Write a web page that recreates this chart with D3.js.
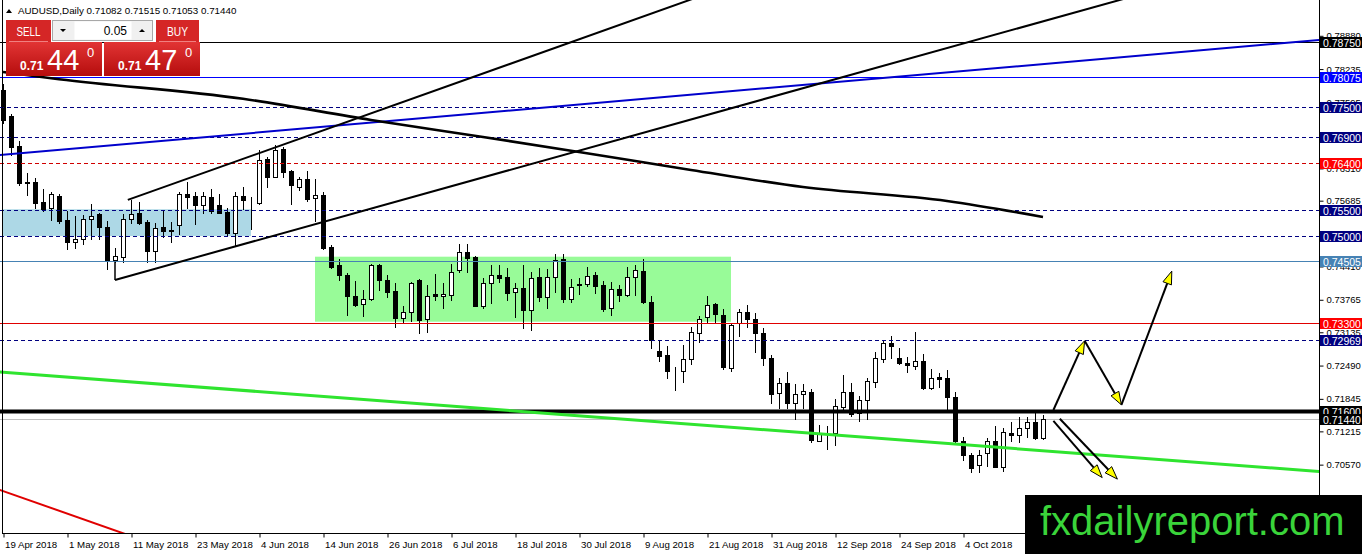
<!DOCTYPE html>
<html lang="en">

<head>
    <meta charset="UTF-8" />
    <title>AUDUSD,Daily</title>
    <style>
        html, body { margin: 0; padding: 0; background: #fff; }
        #container { width: 1362px; height: 554px; overflow: hidden; }
    </style>
</head>

<body>
    <div id="container"></div>
</body>
<script src="https://cdnjs.cloudflare.com/ajax/libs/d3/7.8.5/d3.min.js"></script>
<script>
    const symbol = "AUDUSD", period = "Daily";

    // daily candles, bar 0 = 19 Apr 2018
    const opens = [0.7782, 0.7732, 0.7674, 0.7604, 0.7604, 0.7565, 0.7553, 0.7577, 0.7530, 0.7488,
        0.7493, 0.7532, 0.7542, 0.7517, 0.7453, 0.7459, 0.7532, 0.7543, 0.7527, 0.7471,
        0.7517, 0.7510, 0.7520, 0.7581, 0.7577, 0.7559, 0.7574, 0.7559, 0.7546, 0.7504,
        0.7577, 0.7567, 0.7564, 0.7648, 0.7614, 0.7667, 0.7626, 0.7594, 0.7609, 0.7572,
        0.7578, 0.7478, 0.7443, 0.7424, 0.7382, 0.7367, 0.7377, 0.7442, 0.7413, 0.7393,
        0.7340, 0.7351, 0.7414, 0.7338, 0.7386, 0.7382, 0.7385, 0.7433, 0.7469, 0.7459,
        0.7364, 0.7408, 0.7424, 0.7419, 0.7390, 0.7399, 0.7356, 0.7419, 0.7380, 0.7420,
        0.7455, 0.7377, 0.7405, 0.7406, 0.7424, 0.7404, 0.7359, 0.7396, 0.7385, 0.7420,
        0.7431, 0.7371, 0.7276, 0.7269, 0.7239, 0.7238, 0.7260, 0.7312, 0.7342, 0.7367,
        0.7346, 0.7244, 0.7330, 0.7351, 0.7338, 0.7312, 0.7262, 0.7194, 0.7214, 0.7176,
        0.7192, 0.7196, 0.7102, 0.7117, 0.7117, 0.7167, 0.7197, 0.7156, 0.7181, 0.7217,
        0.7260, 0.7291, 0.7262, 0.7253, 0.7247, 0.7256, 0.7205, 0.7225, 0.7223, 0.7187,
        0.7101, 0.7075, 0.7055, 0.7078, 0.7101, 0.7052, 0.7118, 0.7114, 0.7128, 0.7139,
        0.71082];
    const highs = [0.7794, 0.7736, 0.7683, 0.7621, 0.7612, 0.7590, 0.7585, 0.7580, 0.7548, 0.7537,
        0.7540, 0.7561, 0.7544, 0.7528, 0.7476, 0.7542, 0.7568, 0.7565, 0.7530, 0.7524,
        0.7548, 0.7527, 0.7585, 0.7604, 0.7585, 0.7585, 0.7590, 0.7581, 0.7553, 0.7585,
        0.7594, 0.7575, 0.7666, 0.7652, 0.7676, 0.7672, 0.7627, 0.7614, 0.7626, 0.7609,
        0.7585, 0.7482, 0.7455, 0.7427, 0.7411, 0.7395, 0.7444, 0.7444, 0.7424, 0.7408,
        0.7364, 0.7409, 0.7415, 0.7404, 0.7425, 0.7408, 0.7444, 0.7483, 0.7483, 0.7461,
        0.7418, 0.7442, 0.7443, 0.7438, 0.7408, 0.7442, 0.7430, 0.7438, 0.7435, 0.7464,
        0.7464, 0.7415, 0.7417, 0.7440, 0.7429, 0.7411, 0.7409, 0.7404, 0.7440, 0.7443,
        0.7455, 0.7382, 0.7298, 0.7285, 0.7246, 0.7288, 0.7323, 0.7345, 0.7383, 0.7369,
        0.7357, 0.7331, 0.7357, 0.7365, 0.7349, 0.7320, 0.7269, 0.7223, 0.7236, 0.7212,
        0.7212, 0.7202, 0.7133, 0.7130, 0.7183, 0.7230, 0.7214, 0.7189, 0.7223, 0.7275,
        0.7296, 0.7305, 0.7282, 0.7264, 0.7314, 0.7270, 0.7241, 0.7233, 0.7240, 0.7197,
        0.7110, 0.7079, 0.7085, 0.7107, 0.7130, 0.7127, 0.7139, 0.7148, 0.7148, 0.7157,
        0.71515];
    const lows = [0.7718, 0.7656, 0.7598, 0.7579, 0.7553, 0.7548, 0.7531, 0.7525, 0.7474, 0.7476,
        0.7484, 0.7493, 0.7493, 0.7435, 0.7449, 0.7449, 0.7524, 0.7522, 0.7449, 0.7449,
        0.7498, 0.7488, 0.7503, 0.7553, 0.7522, 0.7543, 0.7544, 0.7543, 0.7499, 0.7480,
        0.7551, 0.7512, 0.7562, 0.7595, 0.7613, 0.7614, 0.7561, 0.7588, 0.7566, 0.7529,
        0.7473, 0.7438, 0.7414, 0.7346, 0.7364, 0.7345, 0.7375, 0.7395, 0.7380, 0.7323,
        0.7332, 0.7334, 0.7311, 0.7314, 0.7375, 0.7360, 0.7375, 0.7429, 0.7430, 0.7363,
        0.7360, 0.7369, 0.7409, 0.7375, 0.7343, 0.7321, 0.7317, 0.7373, 0.7359, 0.7391,
        0.7372, 0.7371, 0.7386, 0.7402, 0.7388, 0.7354, 0.7346, 0.7373, 0.7382, 0.7385,
        0.7370, 0.7282, 0.7256, 0.7223, 0.7201, 0.7216, 0.7252, 0.7294, 0.7333, 0.7333,
        0.7241, 0.7238, 0.7305, 0.7322, 0.7275, 0.7249, 0.7175, 0.7165, 0.7165, 0.7144,
        0.7165, 0.7099, 0.7101, 0.7086, 0.7094, 0.7161, 0.7150, 0.7141, 0.7144, 0.7207,
        0.7254, 0.7262, 0.7251, 0.7236, 0.7241, 0.7203, 0.7202, 0.7207, 0.7162, 0.7099,
        0.7065, 0.7041, 0.7042, 0.7054, 0.7051, 0.7044, 0.7101, 0.7099, 0.7110, 0.7105,
        0.71053];
    const closes = [0.7724, 0.7672, 0.7601, 0.7602, 0.7564, 0.7552, 0.7580, 0.7528, 0.7488, 0.7493,
        0.7532, 0.7538, 0.7516, 0.7453, 0.7460, 0.7532, 0.7541, 0.7525, 0.7471, 0.7515,
        0.7509, 0.7509, 0.7581, 0.7575, 0.7559, 0.7577, 0.7548, 0.7544, 0.7504, 0.7577,
        0.7568, 0.7566, 0.7646, 0.7614, 0.7666, 0.7624, 0.7598, 0.7609, 0.7571, 0.7578,
        0.7476, 0.7440, 0.7424, 0.7382, 0.7365, 0.7377, 0.7443, 0.7413, 0.7391, 0.7340,
        0.7352, 0.7408, 0.7336, 0.7383, 0.7382, 0.7386, 0.7429, 0.7468, 0.7457, 0.7364,
        0.7408, 0.7424, 0.7418, 0.7388, 0.7399, 0.7356, 0.7417, 0.7380, 0.7419, 0.7453,
        0.7377, 0.7401, 0.7406, 0.7422, 0.7403, 0.7358, 0.7396, 0.7385, 0.7420, 0.7433,
        0.7371, 0.7298, 0.7267, 0.7238, 0.7240, 0.7260, 0.7314, 0.7338, 0.7365, 0.7348,
        0.7246, 0.7327, 0.7351, 0.7338, 0.7311, 0.7262, 0.7193, 0.7214, 0.7176, 0.7192,
        0.7199, 0.7104, 0.7117, 0.7118, 0.7170, 0.7197, 0.7154, 0.7181, 0.7219, 0.7262,
        0.7291, 0.7286, 0.7253, 0.7250, 0.7256, 0.7204, 0.7223, 0.7222, 0.7187, 0.7101,
        0.7075, 0.7050, 0.7075, 0.7101, 0.7052, 0.7120, 0.7114, 0.7128, 0.7139, 0.7107,
        0.71440];
    const askPrice = 0.71470;

    const dateLabels = ["19 Apr 2018", "1 May 2018", "11 May 2018", "23 May 2018", "4 Jun 2018", "14 Jun 2018",
        "26 Jun 2018", "6 Jul 2018", "18 Jul 2018", "30 Jul 2018", "9 Aug 2018", "21 Aug 2018",
        "31 Aug 2018", "12 Sep 2018", "24 Sep 2018", "4 Oct 2018"];
    const barsPerDateTick = 8;
    const priceTicks = [0.78880, 0.78235, 0.77595, 0.76950, 0.76310, 0.75685, 0.75040, 0.74410,
        0.73765, 0.73135, 0.72490, 0.71845, 0.71215, 0.70570, 0.69940];

    // horizontal lines drawn on the chart
    const levels = [0.78750, 0.78075, 0.77500, 0.76900, 0.76400, 0.75500, 0.75000, 0.74505,
        0.73300, 0.72969, 0.71600];
    const levelKinds = ["black", "blue", "dash", "dash", "reddash", "dash", "dash", "steel",
        "red", "dash", "thick"];

    // long moving average
    const maBars = [0, 7, 30, 46, 60, 72, 86, 100, 118, 130];
    const maValues = [0.7817, 0.7803, 0.7765, 0.7724, 0.7691, 0.7662, 0.7627, 0.7594, 0.7567, 0.7536];

    // trend lines: [bar, price] anchors
    const blueTrend = [[0, 0.76566], [130, 0.78323]];
    const greenTrend = [[0, 0.7235], [130, 0.7083]];
    const redTrend = [[0, 0.7005], [14, 0.69286]];
    const channelUpper = [[15.6, 0.7569], [60, 0.7814]];
    const channelLower = [[14, 0.7414], [130, 0.7915]];
    const channelTick = [[14, 0.7449], [14, 0.7414]];

    // rectangles
    const blueZoneBars = [0, 31], blueZonePrices = [0.7551, 0.7499];
    const greenZoneBars = [39, 91], greenZonePrices = [0.7459, 0.7333];

    // scenario arrows
    const upPath = [[131.3, 0.7162], [135.2, 0.7296], [139.8, 0.7172], [146.1, 0.7431]];
    const downArrows = [
        [[131.3, 0.7141], [137.4, 0.7031]],
        [[132.1, 0.7145], [139.3, 0.7028]]
    ];

    const W = 1362, H = 554, plotRight = 1319, plotBottom = 533;
    const font = '"Liberation Sans", Arial, sans-serif';

    let x = d3.scaleLinear().domain([0, 164.5]).range([3, plotRight]);
    let y = d3.scaleLinear().domain([0.69236, 0.79564]).range([plotBottom, 0]);
    const crisp = v => Math.round(v) + 0.5;

    let svg = d3.select("#container").append("svg").attr("width", W).attr("height", H)
        .style("display", "block").attr("font-family", font);
    svg.append("rect").attr("width", W).attr("height", H).attr("fill", "#fff");

    let defs = svg.append("defs");
    defs.append("clipPath").attr("id", "plot").append("rect")
        .attr("x", 0).attr("y", 0).attr("width", plotRight).attr("height", plotBottom);
    let grad = defs.append("linearGradient").attr("id", "redGrad")
        .attr("x1", 0).attr("y1", 0).attr("x2", 0).attr("y2", 1);
    grad.append("stop").attr("offset", "0%").attr("stop-color", "#e23434");
    grad.append("stop").attr("offset", "100%").attr("stop-color", "#b50d0d");

    let plot = svg.append("g").attr("clip-path", "url(#plot)");

    // zones (background)
    plot.append("rect")
        .attr("x", x(blueZoneBars[0])).attr("y", y(blueZonePrices[0]))
        .attr("width", x(blueZoneBars[1]) - x(blueZoneBars[0]))
        .attr("height", y(blueZonePrices[1]) - y(blueZonePrices[0]))
        .attr("fill", "#add8e6");
    plot.append("rect")
        .attr("x", x(greenZoneBars[0])).attr("y", y(greenZonePrices[0]))
        .attr("width", x(greenZoneBars[1]) - x(greenZoneBars[0]))
        .attr("height", y(greenZonePrices[1]) - y(greenZonePrices[0]))
        .attr("fill", "#98fb98");

    // bid line
    const bid = closes[closes.length - 1];
    plot.append("line").attr("x1", 0).attr("x2", plotRight)
        .attr("y1", crisp(y(bid))).attr("y2", crisp(y(bid)))
        .attr("stroke", "#c0c0c0").attr("stroke-width", 1);

    // candles
    let idx = d3.range(opens.length);
    let candle = plot.selectAll("g.candle").data(idx).enter().append("g").attr("class", "candle");
    candle.append("line")
        .attr("x1", i => crisp(x(i))).attr("x2", i => crisp(x(i)))
        .attr("y1", i => Math.round(y(highs[i]))).attr("y2", i => Math.round(y(lows[i])) + 1)
        .attr("stroke", "#000").attr("stroke-width", 1);
    candle.append("rect")
        .attr("x", i => Math.round(x(i)) - 1.5)
        .attr("y", i => crisp(y(Math.max(opens[i], closes[i]))))
        .attr("width", 4)
        .attr("height", i => Math.max(0, Math.round(y(Math.min(opens[i], closes[i]))) - Math.round(y(Math.max(opens[i], closes[i])))))
        .attr("fill", i => closes[i] >= opens[i] ? "#fff" : "#000")
        .attr("stroke", "#000").attr("stroke-width", 1);

    // horizontal levels
    const kindStyle = {
        black: { stroke: "#000", w: 1, dash: null, bg: "#000" },
        blue: { stroke: "#0000ff", w: 1, dash: null, bg: "#0000ff" },
        dash: { stroke: "#000080", w: 1, dash: "4,3", bg: "#000080" },
        reddash: { stroke: "#d00000", w: 1, dash: "4,3", bg: "#ff0000" },
        steel: { stroke: "#4682b4", w: 1, dash: null, bg: "#4682b4" },
        red: { stroke: "#e00000", w: 1, dash: null, bg: "#ff0000" },
        thick: { stroke: "#000", w: 4, dash: null, bg: "#000" }
    };
    plot.selectAll("line.level").data(levels).enter().append("line").attr("class", "level")
        .attr("x1", 0).attr("x2", plotRight)
        .attr("y1", d => crisp(y(d))).attr("y2", d => crisp(y(d)))
        .attr("stroke", (d, i) => kindStyle[levelKinds[i]].stroke)
        .attr("stroke-width", (d, i) => kindStyle[levelKinds[i]].w)
        .attr("stroke-dasharray", (d, i) => kindStyle[levelKinds[i]].dash);

    // trend lines
    function ray(anchors, left, right) {
        let [b0, p0] = anchors[0], [b1, p1] = anchors[1];
        let k = (p1 - p0) / (b1 - b0);
        let bs = left ? -5 : b0, be = right ? 175 : b1;
        return [[bs, p0 + (bs - b0) * k], [be, p0 + (be - b0) * k]];
    }
    let line = d3.line().x(d => x(d[0])).y(d => y(d[1]));
    plot.append("path").attr("d", line(ray(blueTrend, true, true)))
        .attr("fill", "none").attr("stroke", "#0000cc").attr("stroke-width", 2);
    plot.append("path").attr("d", line(ray(greenTrend, true, true)))
        .attr("fill", "none").attr("stroke", "#2fe42f").attr("stroke-width", 3);
    plot.append("path").attr("d", line(ray(redTrend, true, true)))
        .attr("fill", "none").attr("stroke", "#e00000").attr("stroke-width", 2);
    plot.append("path").attr("d", line(ray(channelUpper, false, true)))
        .attr("fill", "none").attr("stroke", "#000").attr("stroke-width", 2);
    plot.append("path").attr("d", line(ray(channelLower, false, true)))
        .attr("fill", "none").attr("stroke", "#000").attr("stroke-width", 2);
    plot.append("path").attr("d", line(channelTick))
        .attr("fill", "none").attr("stroke", "#000").attr("stroke-width", 1.5);

    // moving average
    let maLine = d3.line().x(d => x(d[0])).y(d => y(d[1])).curve(d3.curveMonotoneX);
    plot.append("path").attr("d", maLine(maBars.map((b, i) => [b, maValues[i]])))
        .attr("fill", "none").attr("stroke", "#000").attr("stroke-width", 2.6);

    // arrows
    function arrow(a, b) {
        let x0 = x(a[0]), y0 = y(a[1]), x1 = x(b[0]), y1 = y(b[1]);
        let len = Math.hypot(x1 - x0, y1 - y0), ux = (x1 - x0) / len, uy = (y1 - y0) / len;
        let bx = x1 - ux * 13, by = y1 - uy * 13, nx = -uy, ny = ux;
        plot.append("line").attr("x1", x0).attr("y1", y0).attr("x2", bx).attr("y2", by)
            .attr("stroke", "#000").attr("stroke-width", 2);
        plot.append("path")
            .attr("d", `M${x1},${y1}L${bx + nx * 4.5},${by + ny * 4.5}L${bx - nx * 4.5},${by - ny * 4.5}Z`)
            .attr("fill", "#ffff00").attr("stroke", "#000").attr("stroke-width", 1);
    }
    for (let i = 1; i < upPath.length; i++) arrow(upPath[i - 1], upPath[i]);
    downArrows.forEach(d => arrow(d[0], d[1]));

    // frame
    svg.append("line").attr("x1", 2.5).attr("x2", 2.5).attr("y1", 0).attr("y2", plotBottom)
        .attr("stroke", "#000");
    svg.append("line").attr("x1", plotRight + 0.5).attr("x2", plotRight + 0.5).attr("y1", 0).attr("y2", plotBottom)
        .attr("stroke", "#000");
    svg.append("line").attr("x1", 2).attr("x2", plotRight + 1).attr("y1", plotBottom + 0.5).attr("y2", plotBottom + 0.5)
        .attr("stroke", "#000");

    // price axis
    let yAxis = d3.axisRight(y).tickValues(priceTicks).tickSize(4).tickPadding(3)
        .tickFormat(d => d.toFixed(5));
    let gy = svg.append("g").attr("transform", `translate(${plotRight + 0.5},0.5)`).call(yAxis)
        .attr("font-family", font).attr("font-size", 9.5);
    gy.select(".domain").remove();
    gy.selectAll("line").attr("stroke", "#000");
    gy.selectAll("text").attr("fill", "#000");

    // date axis
    let xAxis = d3.axisBottom(x).tickValues(dateLabels.map((d, i) => i * barsPerDateTick))
        .tickSize(4).tickPadding(4).tickFormat((d, i) => dateLabels[i]);
    let gx = svg.append("g").attr("transform", `translate(0.5,${plotBottom + 0.5})`).call(xAxis)
        .attr("font-family", font).attr("font-size", 9.7);
    gx.select(".domain").remove();
    gx.selectAll("line").attr("stroke", "#000");
    gx.selectAll("text").attr("fill", "#000").attr("text-anchor", "start").attr("dx", 1);

    // level price labels
    let labelData = levels.map((v, i) => ({ v: v, bg: kindStyle[levelKinds[i]].bg }));
    labelData.push({ v: bid, bg: "#000" });
    let lab = svg.selectAll("g.plab").data(labelData).enter().append("g").attr("class", "plab")
        .attr("transform", d => `translate(${plotRight + 1},${Math.round(y(d.v))})`);
    lab.append("rect").attr("x", 0).attr("y", -5).attr("width", W - plotRight - 1).attr("height", 11)
        .attr("fill", d => d.bg);
    lab.append("text").attr("x", 3).attr("y", 4.5).attr("fill", "#fff").attr("font-size", 10.5)
        .text(d => d.v.toFixed(5));

    // header
    const last = opens.length - 1;
    svg.append("path").attr("d", "M6,13 L12,13 L9,9 Z").attr("fill", "#000");
    svg.append("text").attr("x", 18).attr("y", 14).attr("font-size", 9.8).attr("fill", "#000")
        .text(`${symbol},${period}  ${opens[last].toFixed(5)} ${highs[last].toFixed(5)} ${lows[last].toFixed(5)} ${closes[last].toFixed(5)}`);

    // one click trading panel
    let panel = svg.append("g");
    panel.append("rect").attr("x", 6).attr("y", 20).attr("width", 45).attr("height", 22).attr("fill", "#d52626");
    panel.append("line").attr("x1", 9).attr("x2", 48).attr("y1", 41.5).attr("y2", 41.5).attr("stroke", "#f08080");
    panel.append("text").attr("x", 28.5).attr("y", 35.5).attr("text-anchor", "middle")
        .attr("font-size", 12).attr("fill", "#fff").attr("textLength", 24).attr("lengthAdjust", "spacingAndGlyphs").text("SELL");
    panel.append("rect").attr("x", 156).attr("y", 20).attr("width", 43).attr("height", 22).attr("fill", "#d52626");
    panel.append("line").attr("x1", 159).attr("x2", 196).attr("y1", 41.5).attr("y2", 41.5).attr("stroke", "#f08080");
    panel.append("text").attr("x", 177.5).attr("y", 35.5).attr("text-anchor", "middle")
        .attr("font-size", 12).attr("fill", "#fff").attr("textLength", 21).attr("lengthAdjust", "spacingAndGlyphs").text("BUY");
    panel.append("rect").attr("x", 52.5).attr("y", 20.5).attr("width", 100).attr("height", 20)
        .attr("fill", "#f0f0f0").attr("stroke", "#a8a8a8");
    panel.append("rect").attr("x", 74.5).attr("y", 21.5).attr("width", 57).attr("height", 18)
        .attr("fill", "#fff");
    panel.append("path").attr("d", "M60,29 L66,29 L63,32 Z").attr("fill", "#000");
    panel.append("path").attr("d", "M139,32 L145,32 L142,29 Z").attr("fill", "#000");
    panel.append("text").attr("x", 127).attr("y", 34.5).attr("text-anchor", "end")
        .attr("font-size", 12).attr("fill", "#000").text("0.05");

    function priceBox(x0, value) {
        let s = value.toFixed(5);
        panel.append("rect").attr("x", x0).attr("y", 42).attr("width", 96).attr("height", 34)
            .attr("fill", "url(#redGrad)");
        panel.append("text").attr("x", x0 + 14).attr("y", 70).attr("font-size", 12).attr("font-weight", "bold")
            .attr("fill", "#fff").text(s.slice(0, 4));
        panel.append("text").attr("x", x0 + 41).attr("y", 70).attr("font-size", 29)
            .attr("fill", "#fff").text(s.slice(4, 6));
        panel.append("text").attr("x", x0 + 81).attr("y", 57).attr("font-size", 13)
            .attr("fill", "#fff").text(s.slice(6));
    }
    priceBox(6, bid);
    priceBox(104, askPrice);

    // watermark
    svg.append("rect").attr("x", 1025).attr("y", 495).attr("width", W - 1025).attr("height", H - 495).attr("fill", "#000");
    svg.append("text").attr("x", 1040).attr("y", 535).attr("font-size", 40).attr("fill", "#3ad43a")
        .text("fxdailyreport.com");
</script>

</html>
